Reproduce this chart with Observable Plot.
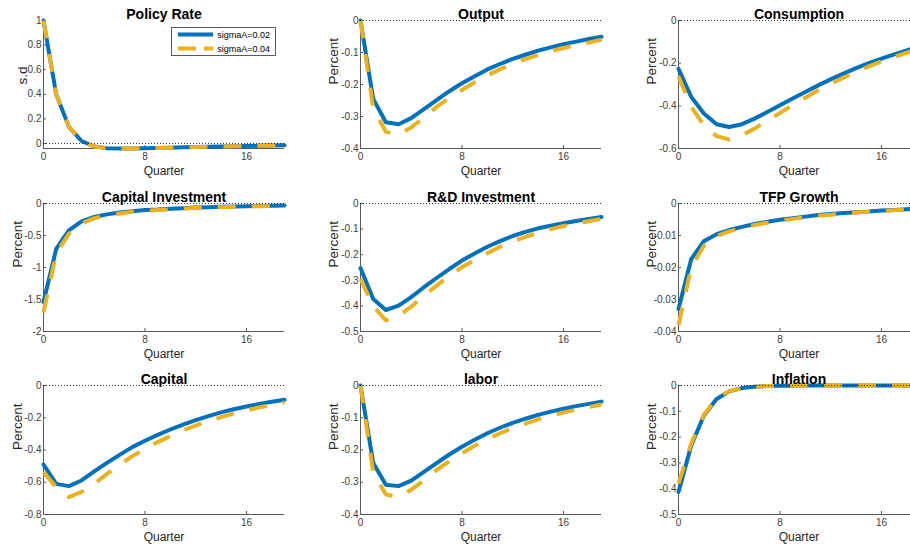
<!DOCTYPE html>
<html><head><meta charset="utf-8">
<script src="https://cdn.jsdelivr.net/npm/d3@7"></script>
<script src="https://cdn.jsdelivr.net/npm/@observablehq/plot@0.6"></script>
<style>
html,body{margin:0;padding:0;background:#fff;}
#wrap{position:relative;width:910px;height:545px;overflow:hidden;font-family:"Liberation Sans",Arial,sans-serif;}
#wrap > svg, #wrap > div{position:absolute;}
#legend text{font-family:"Liberation Sans",Arial,sans-serif;font-size:9px;}
</style></head><body><div id="wrap"></div>
<script>
// ---------- data ----------
const quarters = [0,1,2,3,4,5,6,7,8,9,10,11,12,13,14,15,16,17,18,19];
const xTicks = [0, 8, 16];
const seriesNames = ["sigmaA=0.02", "sigmaA=0.04"];
const titles = ["Policy Rate","Output","Consumption","Capital Investment","R&D Investment","TFP Growth","Capital","labor","Inflation"];
const yLabels = ["s.d","Percent","Percent","Percent","Percent","Percent","Percent","Percent","Percent"];

const policyLow  = [1, 0.40, 0.135, 0.02, -0.025, -0.038, -0.041, -0.040, -0.038, -0.036, -0.034, -0.031, -0.029, -0.027, -0.025, -0.023, -0.021, -0.019, -0.017, -0.015];
const policyHigh = [1, 0.40, 0.135, 0.02, -0.025, -0.038, -0.041, -0.040, -0.038, -0.036, -0.034, -0.031, -0.029, -0.027, -0.025, -0.023, -0.021, -0.019, -0.017, -0.015];
const outputLow  = [0, -0.245, -0.318, -0.324, -0.305, -0.277, -0.249, -0.221, -0.196, -0.174, -0.153, -0.136, -0.120, -0.107, -0.094, -0.084, -0.074, -0.066, -0.058, -0.051];
const outputHigh = [0, -0.275, -0.348, -0.357, -0.334, -0.303, -0.270, -0.242, -0.217, -0.193, -0.172, -0.152, -0.136, -0.121, -0.108, -0.096, -0.086, -0.077, -0.069, -0.060];
const consLow    = [-0.226, -0.358, -0.436, -0.486, -0.499, -0.486, -0.460, -0.429, -0.397, -0.366, -0.335, -0.304, -0.276, -0.249, -0.223, -0.200, -0.179, -0.159, -0.140, -0.120];
const consHigh   = [-0.262, -0.405, -0.491, -0.542, -0.558, -0.538, -0.506, -0.471, -0.433, -0.397, -0.362, -0.327, -0.296, -0.268, -0.242, -0.215, -0.192, -0.171, -0.151, -0.132];
const capInvLow  = [-1.54, -0.71, -0.42, -0.28, -0.21, -0.17, -0.14, -0.12, -0.10, -0.094, -0.083, -0.073, -0.064, -0.057, -0.052, -0.047, -0.042, -0.038, -0.035, -0.031];
const capInvHigh = [-1.70, -0.78, -0.47, -0.31, -0.23, -0.185, -0.155, -0.13, -0.115, -0.10, -0.09, -0.08, -0.071, -0.064, -0.058, -0.052, -0.047, -0.042, -0.038, -0.034];
const rdLow      = [-0.252, -0.373, -0.416, -0.399, -0.366, -0.327, -0.291, -0.256, -0.223, -0.195, -0.169, -0.147, -0.127, -0.111, -0.097, -0.087, -0.077, -0.068, -0.060, -0.053];
const rdHigh     = [-0.295, -0.400, -0.457, -0.438, -0.403, -0.360, -0.321, -0.282, -0.249, -0.221, -0.194, -0.169, -0.148, -0.130, -0.114, -0.100, -0.088, -0.078, -0.069, -0.060];
const tfpLow     = [-0.033, -0.0174, -0.0118, -0.0096, -0.0083, -0.0073, -0.0064, -0.0057, -0.0051, -0.0046, -0.0041, -0.0036, -0.0033, -0.0030, -0.0027, -0.0025, -0.0022, -0.0020, -0.0018, -0.0016];
const tfpHigh    = [-0.038, -0.0200, -0.0132, -0.0102, -0.0087, -0.0076, -0.0067, -0.0060, -0.0054, -0.0048, -0.0043, -0.0038, -0.0035, -0.0031, -0.0028, -0.0026, -0.0023, -0.0021, -0.0019, -0.0017];
const capLow     = [-0.49, -0.61, -0.624, -0.589, -0.533, -0.480, -0.430, -0.382, -0.343, -0.306, -0.273, -0.242, -0.215, -0.190, -0.167, -0.147, -0.130, -0.114, -0.101, -0.089];
const capHigh    = [-0.537, -0.63, -0.692, -0.660, -0.610, -0.548, -0.492, -0.438, -0.393, -0.351, -0.314, -0.279, -0.248, -0.221, -0.196, -0.174, -0.155, -0.136, -0.120, -0.105];
const laborLow   = [0, -0.240, -0.308, -0.312, -0.295, -0.268, -0.241, -0.214, -0.190, -0.168, -0.148, -0.131, -0.116, -0.103, -0.091, -0.081, -0.072, -0.064, -0.057, -0.050];
const laborHigh  = [0, -0.270, -0.338, -0.345, -0.323, -0.294, -0.262, -0.235, -0.210, -0.187, -0.167, -0.148, -0.132, -0.118, -0.105, -0.094, -0.084, -0.075, -0.067, -0.059];
const inflLow    = [-0.413, -0.233, -0.116, -0.052, -0.023, -0.010, -0.005, -0.002, -0.001, -0.0005, -0.0003, -0.0002, -0.0001, 0, 0, 0, 0, 0, 0, 0];
const inflHigh   = [-0.380, -0.225, -0.113, -0.050, -0.022, -0.010, -0.005, -0.002, -0.001, -0.0005, -0.0003, -0.0002, -0.0001, 0, 0, 0, 0, 0, 0, 0];

const yDomains = [[-0.041, 1], [-0.4, 0], [-0.6, 0], [-2, 0], [-0.5, 0], [-0.04, 0], [-0.8, 0], [-0.4, 0], [-0.5, 0]];
const yTickLists = [
  [0, 0.2, 0.4, 0.6, 0.8, 1],
  [0, -0.1, -0.2, -0.3, -0.4],
  [0, -0.2, -0.4, -0.6],
  [0, -0.5, -1, -1.5, -2],
  [0, -0.1, -0.2, -0.3, -0.4, -0.5],
  [0, -0.01, -0.02, -0.03, -0.04],
  [0, -0.2, -0.4, -0.6, -0.8],
  [0, -0.1, -0.2, -0.3, -0.4],
  [0, -0.1, -0.2, -0.3, -0.4, -0.5]
];
const lowSeries  = [policyLow, outputLow, consLow, capInvLow, rdLow, tfpLow, capLow, laborLow, inflLow];
const highSeries = [policyHigh, outputHigh, consHigh, capInvHigh, rdHigh, tfpHigh, capHigh, laborHigh, inflHigh];

// ---------- layout / style ----------
const FONT = "'Liberation Sans', Arial, Helvetica, sans-serif";
const BLUE = "#0072BD", YELLOW = "#EDB120";
const AXIS = "#5a5a5a", TICKTEXT = "#404040", LABEL = "#262626";
const colLeft = [43, 360, 678];
const rowTop = [20, 203, 385];
const rowH = [128, 128, 129];
const frameW = 241;
const mL = 45, mT = 20, mB = 35, mR = 15;

const wrap = document.getElementById("wrap");

titles.forEach((title, k) => {
  const col = k % 3, row = Math.floor(k / 3);
  const lowData = quarters.map((q, i) => ({q, v: lowSeries[k][i], s: seriesNames[0]}));
  const highData = quarters.map((q, i) => ({q, v: highSeries[k][i], s: seriesNames[1]}));
  const yDom = yDomains[k];
  const chart = Plot.plot({
    width: mL + frameW + mR,
    height: mT + rowH[row] + mB,
    marginLeft: mL, marginRight: mR, marginTop: mT, marginBottom: mB,
    style: {fontFamily: FONT, background: "transparent", overflow: "visible"},
    x: {domain: [0, 19]},
    y: {domain: yDom},
    marks: [
      Plot.ruleX([0], {stroke: AXIS, strokeWidth: 1}),
      Plot.ruleY([yDom[0]], {stroke: AXIS, strokeWidth: 1}),
      Plot.axisX(xTicks, {tickSize: -3, tickPadding: 7, fontSize: 10, fill: TICKTEXT, stroke: AXIS, tickFormat: d => String(d), label: null}),
      Plot.axisY(yTickLists[k], {tickSize: -3, tickPadding: 5, fontSize: 10, fill: TICKTEXT, stroke: AXIS, tickFormat: d => String(d), label: null}),
      Plot.line(lowData, {x: "q", y: "v", stroke: BLUE, strokeWidth: 4, strokeLinejoin: "round"}),
      Plot.line(highData, {x: "q", y: "v", stroke: YELLOW, strokeWidth: 4, strokeDasharray: "18,16", strokeLinecap: "butt"}),
      Plot.ruleY([0], {stroke: "#000", strokeWidth: 0.8, strokeDasharray: "1,2"}),
      Plot.text([title], {frameAnchor: "top", lineAnchor: "bottom", dy: -2, fontSize: 14, fontWeight: "bold", fill: "#000"}),
      Plot.text([yLabels[k]], {frameAnchor: "left", rotate: -90, dx: k === 0 ? -21 : (col === 0 ? -26 : -27), fontSize: 13.5, fill: LABEL}),
      Plot.text(["Quarter"], {frameAnchor: "bottom", dy: 26, fontSize: 12, fill: LABEL})
    ]
  });
  chart.style.left = (colLeft[col] - mL) + "px";
  chart.style.top = (rowTop[row] - mT) + "px";
  wrap.appendChild(chart);
});

// ---------- legend (Policy Rate panel) ----------
const leg = document.createElement("div");
leg.id = "legend";
leg.style.left = "171px"; leg.style.top = "27px";
leg.innerHTML = `<svg width="105" height="29">
  <rect x="0.5" y="0.5" width="104" height="28" fill="#fff" stroke="#333" stroke-width="0.8"></rect>
  <line x1="7" x2="42" y1="7.5" y2="7.5" stroke="${BLUE}" stroke-width="4"></line>
  <line x1="7" x2="42" y1="21.5" y2="21.5" stroke="${YELLOW}" stroke-width="4" stroke-dasharray="18,8"></line>
  <text x="99" y="10.8" text-anchor="end" fill="#000">${seriesNames[0]}</text>
  <text x="99" y="24.8" text-anchor="end" fill="#000">${seriesNames[1]}</text>
</svg>`;
wrap.appendChild(leg);
</script></body></html>
